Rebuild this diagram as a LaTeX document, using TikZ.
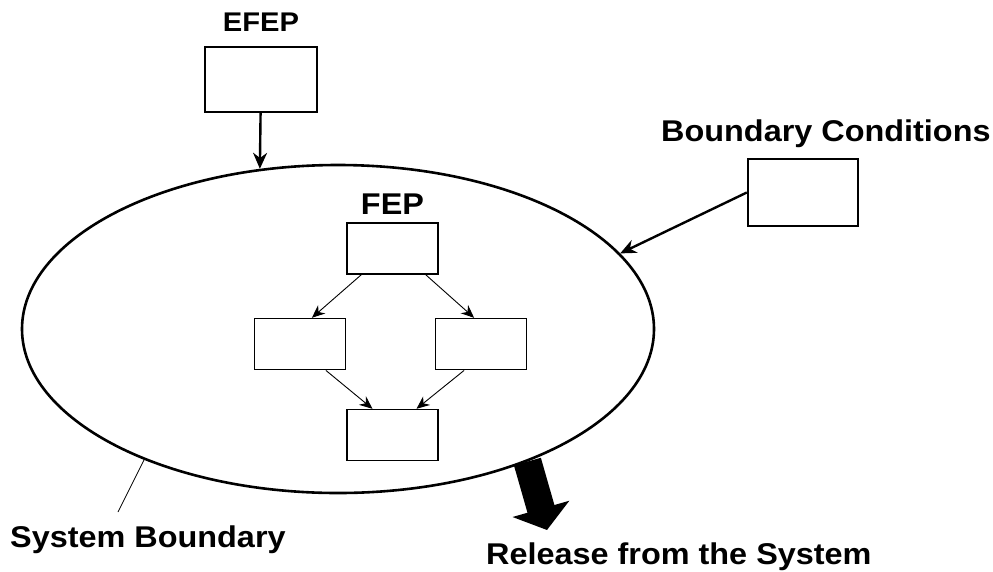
\documentclass[tikz,border=0pt]{standalone}
\usepackage{fontspec}
\setmainfont{Liberation Sans}[FakeStretch=1.08]
\usetikzlibrary{arrows.meta, positioning, shapes.geometric}
\tikzset{
  outbox/.style = {draw, line width=2.4pt, inner sep=0pt},
  fepbox/.style = {draw, line width=1.6pt, inner sep=0pt,
    minimum width=91pt, minimum height=51pt},% boites du FEP
  lbl/.style = {inner sep=0pt, font=\fontsize{30}{36}\selectfont\bfseries},
  flow/.style = {-{Stealth[length=13pt,width=11pt]}, line width=0.9pt},
  feed/.style = {-{Stealth[length=16pt,width=14pt]}, line width=2.4pt}
}

\begin{document}
\begin{tikzpicture}[x=1pt, y=-1pt]
  \useasboundingbox (0,0) rectangle (993,571);
  % systeme
  \node (sys) [ellipse, draw, line width=2.6pt, inner sep=0pt,
    minimum width=632pt, minimum height=328pt] at (338,329) {};
  % entrees
  \node (efep) [outbox, minimum width=112pt, minimum height=65pt] at (261,79.5) {};
  \node [lbl, font=\fontsize{27}{32}\selectfont\bfseries, above=14pt of efep] {EFEP};
  \node (bc) [outbox, minimum width=110pt, minimum height=67pt] at (803,192.5) {};
  \node [lbl, anchor=base west] at (661,141) {Boundary Conditions};
  \draw[feed] (efep) -- (sys.116);
  \draw[feed] (bc.west) -- (sys.15);
  % FEP
  \node (ft) [fepbox] at (392.5,248.5) {};
  \node [lbl, above=8pt of ft] {FEP};
  \node (fl) [fepbox, below left=43pt and 0pt of ft] {};
  \node (fr) [fepbox, below right=43pt and -4pt of ft] {};
  \node (fb) [fepbox, below=134pt of ft] {};
  \draw[flow] ([xshift=15pt]ft.south west) -- ([xshift=12pt]fl.north);
  \draw[flow] ([xshift=-13pt]ft.south east) -- ([xshift=-7pt]fr.north);
  \draw[flow] ([xshift=26pt]fl.south) -- ([xshift=-20pt]fb.north);
  \draw[flow] ([xshift=-17pt]fr.south) -- ([xshift=24pt]fb.north);
  % sortie
  \coordinate (reltip) at (547,530);
  \draw[line width=28pt, -{Triangle[length=22pt,width=58pt]}] (sys.-35) -- (reltip);
  \node [lbl, anchor=base west] at (486,564) {Release from the System};
  \coordinate (sbtag) at (118,512);
  \draw[line width=0.8pt] (sys.-146) -- (sbtag);
  \node [lbl, anchor=base west] at (10,547) {System Boundary};
\end{tikzpicture}
\end{document}
